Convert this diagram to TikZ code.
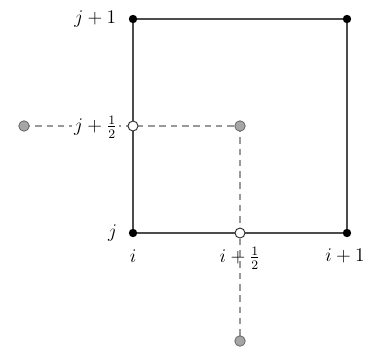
\documentclass[tikz,border=0pt]{standalone}
\begin{document}
\begin{tikzpicture}[x=0.62pt,y=-0.62pt,
  solidline/.style={draw=black!70,line width=0.7pt},
  dashline/.style={draw=black!40,line width=0.7pt,dash pattern=on 4pt off 3pt},
  blackdot/.style={circle,fill=black,inner sep=0pt,minimum size=5.2pt},
  opendot/.style={circle,draw=black!80,fill=white,line width=0.6pt,inner sep=0pt,minimum size=6.2pt},
  graydot/.style={circle,draw=black!60,fill=black!35,line width=0.5pt,inner sep=0pt,minimum size=6.5pt},
  lbl/.style={inner sep=1pt,font=\fontsize{12}{14}\selectfont}]
\useasboundingbox (0,0) rectangle (366,349);
\coordinate (TL) at (133,19);
\coordinate (TR) at (347,19);
\coordinate (BL) at (133,233);
\coordinate (BR) at (347,233);
\coordinate (C) at (240,126);
\coordinate (L) at (24,126);
\coordinate (B) at (240,341);
\coordinate (ML) at (133,126);
\coordinate (MB) at (240,233);
% dashed lines
\draw[dashline] (L) -- (C);
\draw[dashline] (C) -- (B);
% square
\draw[solidline] (TL) -- (TR) -- (BR) -- (BL) -- cycle;
% labels
\node[lbl,anchor=east,fill=white] (lj12) at (119,127) {$j+\frac{1}{2}$};
\node[lbl,anchor=east] (lj1) at (118,19) {$j+1$};
\node[lbl,anchor=east] (lj) at (119,233) {$j$};
\node[lbl] (li) at (133,256) {$i$};
\node[lbl] (li12) at (240,258) {$i+\frac{1}{2}$};
\node[lbl] (li1) at (345,256) {$i+1$};
% dots
\node[blackdot] (nTL) at (TL) {};
\node[blackdot] (nTR) at (TR) {};
\node[blackdot] (nBL) at (BL) {};
\node[blackdot] (nBR) at (BR) {};
\node[opendot] (nML) at (ML) {};
\node[opendot] (nMB) at (MB) {};
\node[graydot] (nC) at (C) {};
\node[graydot] (nL) at (L) {};
\node[graydot] (nB) at (B) {};
\end{tikzpicture}
\end{document}
